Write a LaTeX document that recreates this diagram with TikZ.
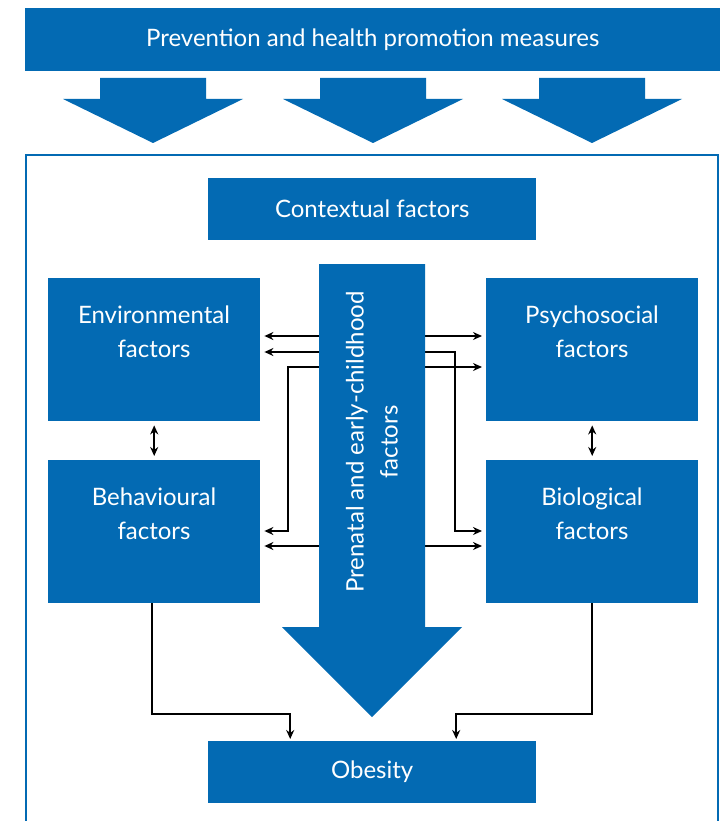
\documentclass[tikz,border=0pt]{standalone}
\usepackage{fontspec}
\setmainfont{Lato}
\usetikzlibrary{arrows.meta}
\definecolor{whoblue}{RGB}{3,106,179}

\begin{document}
\begin{tikzpicture}[x=1pt,y=1pt]
      \tikzset{box/.style={fill=whoblue, inner sep=0pt, anchor=north west, text=white, font=\fontsize{24}{34}\selectfont},
        boxtext/.style={text=white, align=center, font=\fontsize{24}{34}\selectfont},
        link/.style={black, line width=2pt, shorten <=4pt, shorten >=4pt,
          {Stealth[length=9pt,width=8pt]}-{Stealth[length=9pt,width=8pt]}},
        feed/.style={black, line width=2pt, shorten >=2pt, -{Stealth[length=9pt,width=8pt]}}}
      \useasboundingbox (0,0) rectangle (720,-821);
      % outer frame and top measures
      \draw [whoblue, line width=1.8pt] (26,-830) -- (26,-155) -- (718,-155) -- (718,-830);
      \node [box, minimum width=695, minimum height=63] (prev) at (25,-8) {Prevention and health promotion measures};
      \foreach \x in {153,373,592}
        \fill [whoblue] (\x-53,-78) -- (\x+53,-78) -- (\x+53,-99) -- (\x+90,-99) -- (\x,-143) -- (\x-90,-99) -- (\x-53,-99) -- cycle;
      % boxes
      \node [box, minimum width=328, minimum height=62] (ctx) at (208,-178) {Contextual factors};
      \node [box, minimum width=212, minimum height=143] (env) at (48,-278) {};
      \node [boxtext] (envtxt) at (154,-332) {Environmental\\factors};
      \node [box, minimum width=212, minimum height=143] (beh) at (48,-460) {};
      \node [boxtext] (behtxt) at (154,-514) {Behavioural\\factors};
      \node [box, minimum width=212, minimum height=143] (psy) at (486,-278) {};
      \node [boxtext] (psytxt) at (592,-332) {Psychosocial\\factors};
      \node [box, minimum width=212, minimum height=143] (bio) at (486,-460) {};
      \node [boxtext] (biotxt) at (592,-514) {Biological\\factors};
      \node [box, minimum width=328, minimum height=62] (obes) at (208,-741) {Obesity};
      % links between factors
      \draw [link] ([yshift=-58]env.north east) -- ([yshift=-58]psy.north west);
      \draw [link] ([yshift=-74]env.north east) -- ++(195,0) |- ([yshift=-71]bio.north west);
      \draw [link] ([yshift=-89]psy.north west) -- ++(-198,0) |- ([yshift=-71]beh.north east);
      \draw [link] ([yshift=-86]beh.north east) -- ([yshift=-86]bio.north west);
      \draw [link] (env) -- (beh);
      \draw [link] (psy) -- (bio);
      \draw [feed] ([xshift=-2]beh.south) -- ++(0,-111) -| ([xshift=-82]obes.north);
      \draw [feed] (bio.south) -- ++(0,-111) -| ([xshift=84]obes.north);
      % prenatal arrow
      \fill [whoblue] (319,-264) -- (425,-264) -- (425,-627) -- (462,-627) -- (372,-717) -- (282,-627) -- (319,-627) -- cycle;
      \node [boxtext, rotate=90] (pren) at (372,-442) {Prenatal and early-childhood\\factors};
\end{tikzpicture}
\end{document}
